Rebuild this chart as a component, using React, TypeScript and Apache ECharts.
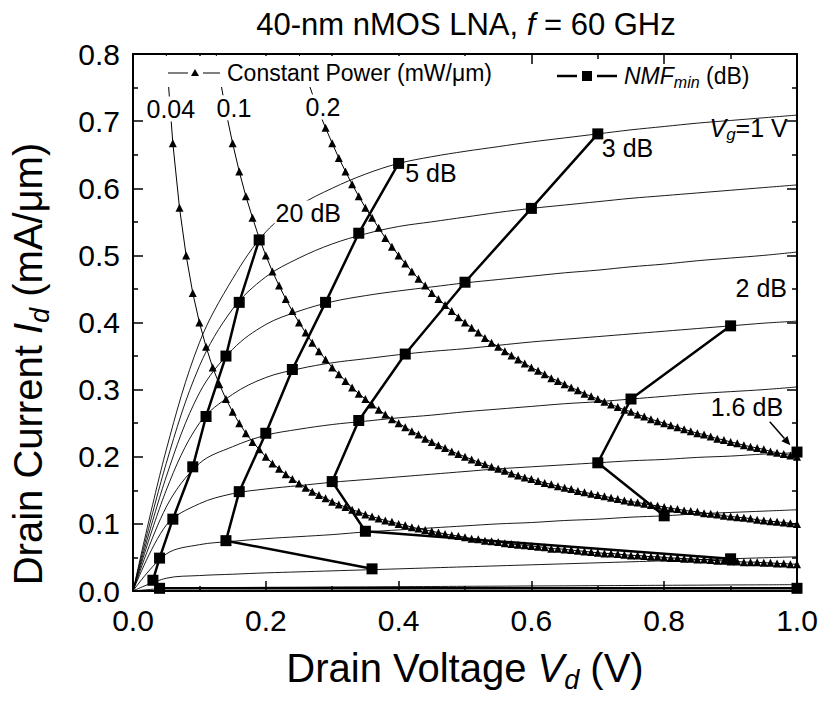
import React, { useEffect, useRef } from "react";
import * as echarts from "echarts";

// ---- Axis ticks ----
const X_TICKS = [0, 0.2, 0.4, 0.6, 0.8, 1.0];
const Y_TICKS = [0, 0.1, 0.2, 0.3, 0.4, 0.5, 0.6, 0.7, 0.8];

// ---- Id–Vd curves (thin lines), Vg = 1.0 ... 0.2 V, Vd step 0.05 ----
const VD_GRID = [0, 0.05, 0.1, 0.15, 0.2, 0.25, 0.3, 0.35, 0.4, 0.45, 0.5, 0.55, 0.6, 0.65, 0.7, 0.75, 0.8, 0.85, 0.9, 0.95, 1.0];
const ID_VG10 = [0, 0.21, 0.37, 0.465, 0.535, 0.574, 0.6, 0.621, 0.637, 0.647, 0.655, 0.662, 0.669, 0.675, 0.681, 0.687, 0.692, 0.697, 0.701, 0.705, 0.709];
const ID_VG09 = [0, 0.19, 0.335, 0.42, 0.468, 0.496, 0.517, 0.532, 0.543, 0.55, 0.557, 0.564, 0.57, 0.575, 0.58, 0.585, 0.589, 0.593, 0.597, 0.601, 0.605];
const ID_VG08 = [0, 0.17, 0.295, 0.36, 0.397, 0.417, 0.431, 0.44, 0.447, 0.453, 0.459, 0.464, 0.469, 0.474, 0.478, 0.483, 0.487, 0.492, 0.496, 0.5, 0.505];
const ID_VG07 = [0, 0.15, 0.25, 0.293, 0.318, 0.331, 0.34, 0.346, 0.352, 0.357, 0.361, 0.366, 0.371, 0.375, 0.379, 0.383, 0.387, 0.391, 0.395, 0.399, 0.402];
const ID_VG06 = [0, 0.125, 0.19, 0.215, 0.232, 0.241, 0.248, 0.253, 0.258, 0.262, 0.267, 0.271, 0.275, 0.279, 0.282, 0.286, 0.29, 0.294, 0.297, 0.3, 0.304];
const ID_VG05 = [0, 0.098, 0.13, 0.145, 0.152, 0.157, 0.162, 0.166, 0.17, 0.174, 0.178, 0.182, 0.185, 0.188, 0.191, 0.194, 0.196, 0.199, 0.201, 0.204, 0.206];
const ID_VG04 = [0, 0.055, 0.069, 0.074, 0.078, 0.081, 0.084, 0.088, 0.091, 0.094, 0.097, 0.1, 0.102, 0.105, 0.107, 0.11, 0.112, 0.115, 0.117, 0.119, 0.121];
const ID_VG03 = [0, 0.019, 0.023, 0.025, 0.027, 0.0285, 0.03, 0.0315, 0.033, 0.0345, 0.036, 0.0375, 0.039, 0.0405, 0.042, 0.0435, 0.045, 0.0465, 0.048, 0.0495, 0.051];
const ID_VG02 = [0, 0.004, 0.005, 0.0052, 0.0055, 0.0057, 0.006, 0.0062, 0.0065, 0.0067, 0.007, 0.0072, 0.0075, 0.0077, 0.008, 0.0082, 0.0085, 0.0087, 0.009, 0.0092, 0.0095];
const VG_CURVES = [ID_VG10, ID_VG09, ID_VG08, ID_VG07, ID_VG06, ID_VG05, ID_VG04, ID_VG03, ID_VG02];

// ---- Constant power curves (mW/um), Vd step 0.01 ----
const P004_VD_START = 0.05;
const P004_ID = [
  0.8, 0.667, 0.571, 0.5, 0.444, 0.4, 0.364, 0.333, 0.308, 0.286,
  0.267, 0.25, 0.235, 0.222, 0.211, 0.2, 0.19, 0.182, 0.174, 0.167,
  0.16, 0.154, 0.148, 0.143, 0.138, 0.133, 0.129, 0.125, 0.121, 0.118,
  0.114, 0.111, 0.108, 0.105, 0.103, 0.1, 0.098, 0.095, 0.093, 0.091,
  0.089, 0.087, 0.085, 0.083, 0.082, 0.08, 0.078, 0.077, 0.075, 0.074,
  0.073, 0.071, 0.07, 0.069, 0.068, 0.067, 0.066, 0.065, 0.063, 0.063,
  0.062, 0.061, 0.06, 0.059, 0.058, 0.057, 0.056, 0.056, 0.055, 0.054,
  0.053, 0.053, 0.052, 0.051, 0.051, 0.05, 0.049, 0.049, 0.048, 0.048,
  0.047, 0.047, 0.046, 0.045, 0.045, 0.044, 0.044, 0.043, 0.043, 0.043,
  0.042, 0.042, 0.041, 0.041, 0.04, 0.04,
];
const P01_VD_START = 0.12;
const P01_ID = [
  0.833, 0.769, 0.714, 0.667, 0.625, 0.588, 0.556, 0.526, 0.5, 0.476,
  0.455, 0.435, 0.417, 0.4, 0.385, 0.37, 0.357, 0.345, 0.333, 0.323,
  0.313, 0.303, 0.294, 0.286, 0.278, 0.27, 0.263, 0.256, 0.25, 0.244,
  0.238, 0.233, 0.227, 0.222, 0.217, 0.213, 0.208, 0.204, 0.2, 0.196,
  0.192, 0.189, 0.185, 0.182, 0.179, 0.175, 0.172, 0.169, 0.167, 0.164,
  0.161, 0.159, 0.156, 0.154, 0.152, 0.149, 0.147, 0.145, 0.143, 0.141,
  0.139, 0.137, 0.135, 0.133, 0.132, 0.13, 0.128, 0.127, 0.125, 0.123,
  0.122, 0.12, 0.119, 0.118, 0.116, 0.115, 0.114, 0.112, 0.111, 0.11,
  0.109, 0.108, 0.106, 0.105, 0.104, 0.103, 0.102, 0.101, 0.1,
];
const P02_VD_START = 0.25;
const P02_ID = [
  0.8, 0.769, 0.741, 0.714, 0.69, 0.667, 0.645, 0.625, 0.606, 0.588,
  0.571, 0.556, 0.541, 0.526, 0.513, 0.5, 0.488, 0.476, 0.465, 0.455,
  0.444, 0.435, 0.426, 0.417, 0.408, 0.4, 0.392, 0.385, 0.377, 0.37,
  0.364, 0.357, 0.351, 0.345, 0.339, 0.333, 0.328, 0.323, 0.317, 0.313,
  0.308, 0.303, 0.299, 0.294, 0.29, 0.286, 0.282, 0.278, 0.274, 0.27,
  0.267, 0.263, 0.26, 0.256, 0.253, 0.25, 0.247, 0.244, 0.241, 0.238,
  0.235, 0.233, 0.23, 0.227, 0.225, 0.222, 0.22, 0.217, 0.215, 0.213,
  0.211, 0.208, 0.206, 0.204, 0.202, 0.2,
];

// ---- NMFmin contours (thick lines with squares) ----
const NF20_VD = [1.0, 0.04, 0.03, 0.04, 0.06, 0.09, 0.11, 0.14, 0.16, 0.19];
const NF20_ID = [0.004, 0.004, 0.016, 0.049, 0.107, 0.185, 0.26, 0.35, 0.43, 0.523];
const NF5_VD = [0.36, 0.14, 0.16, 0.2, 0.24, 0.29, 0.34, 0.4];
const NF5_ID = [0.033, 0.075, 0.148, 0.235, 0.33, 0.43, 0.533, 0.637];
const NF3_VD = [0.9, 0.35, 0.3, 0.34, 0.41, 0.5, 0.6, 0.7];
const NF3_ID = [0.048, 0.089, 0.163, 0.254, 0.353, 0.46, 0.57, 0.681];
const NF2_VD = [0.8, 0.7, 0.75, 0.9];
const NF2_ID = [0.112, 0.191, 0.286, 0.395];
const NF16_VD = [1.0];
const NF16_ID = [0.207];

const FONT = "'Liberation Sans', Arial, Helvetica, sans-serif";

function zip(xs: number[], ys: number[]) {
  return xs.map((x, i) => [x, ys[i]]);
}
function stepped(start: number, ys: number[]) {
  return ys.map((y, i) => [Math.round((start + i * 0.01) * 100) / 100, y]);
}

export default function App() {
  const ref = useRef<HTMLDivElement>(null);
  useEffect(() => {
    if (!ref.current) return;
    const chart = echarts.init(ref.current, undefined, { renderer: "svg" });

    const series: any[] = [];
    VG_CURVES.forEach((ids) => {
      series.push({
        type: "line",
        data: zip(VD_GRID, ids),
        smooth: 0.35,
        showSymbol: false,
        symbol: "none",
        lineStyle: { color: "#000", width: 0.9 },
        z: 2,
      });
    });
    [
      stepped(P004_VD_START, P004_ID),
      stepped(P01_VD_START, P01_ID),
      stepped(P02_VD_START, P02_ID),
    ].forEach((d) => {
      series.push({
        type: "line",
        data: d,
        symbol: "triangle",
        symbolSize: (v: number[]) => (v[1] > 0.69 ? 0 : 8),
        itemStyle: { color: "#000" },
        lineStyle: { color: "#000", width: 1 },
        z: 3,
      });
    });
    [
      zip(NF20_VD, NF20_ID),
      zip(NF5_VD, NF5_ID),
      zip(NF3_VD, NF3_ID),
      zip(NF2_VD, NF2_ID),
      zip(NF16_VD, NF16_ID),
    ].forEach((d) => {
      series.push({
        type: "line",
        data: d,
        symbol: "rect",
        symbolSize: 11,
        itemStyle: { color: "#000" },
        lineStyle: { color: "#000", width: 2.5 },
        z: 4,
      });
    });

    const axisCommon = {
      type: "value" as const,
      axisLine: { show: true, onZero: false, lineStyle: { color: "#000", width: 2 } },
      axisTick: { show: true, inside: true, length: 10, lineStyle: { color: "#000", width: 1.5 } },
      minorTick: { show: true, splitNumber: 2, length: 5, lineStyle: { color: "#000", width: 1.5 } },
      splitLine: { show: false },
      minorSplitLine: { show: false },
    };

    chart.setOption({
      animation: false,
      backgroundColor: "#fff",
      grid: { left: 133, right: 25, top: 54, bottom: 113, containLabel: false },
      xAxis: [
        {
          ...axisCommon,
          min: X_TICKS[0],
          max: X_TICKS[X_TICKS.length - 1],
          interval: X_TICKS[1] - X_TICKS[0],
          position: "bottom",
          axisLabel: {
            margin: 14,
            fontSize: 30,
            fontFamily: FONT,
            color: "#000",
            formatter: (v: number) => v.toFixed(1),
          },
        },
        {
          ...axisCommon,
          min: X_TICKS[0],
          max: X_TICKS[X_TICKS.length - 1],
          interval: X_TICKS[1] - X_TICKS[0],
          position: "top",
          axisLabel: { show: false },
        },
      ],
      yAxis: [
        {
          ...axisCommon,
          min: Y_TICKS[0],
          max: Y_TICKS[Y_TICKS.length - 1],
          interval: Y_TICKS[1] - Y_TICKS[0],
          position: "left",
          axisLabel: {
            margin: 13,
            fontSize: 30,
            fontFamily: FONT,
            color: "#000",
            formatter: (v: number) => v.toFixed(1),
          },
        },
        {
          ...axisCommon,
          min: Y_TICKS[0],
          max: Y_TICKS[Y_TICKS.length - 1],
          interval: Y_TICKS[1] - Y_TICKS[0],
          position: "right",
          axisLabel: { show: false },
        },
      ],
      series,
    });

    const p = (x: number, y: number) => chart.convertToPixel({ gridIndex: 0 }, [x, y]) as number[];
    const base = (size: number) => ({ fontSize: size, fontFamily: FONT, fill: "#000" });
    const richSet = (size: number, subSize: number, subPad: number) => ({
      i: { fontSize: size, fontFamily: FONT, fontStyle: "italic", fill: "#000" },
      n: { fontSize: size, fontFamily: FONT, fill: "#000" },
      sub: { fontSize: subSize, fontFamily: FONT, fontStyle: "italic", fill: "#000", padding: [subPad, 0, 0, 0] },
    });

    const label = (text: string, x: number, y: number, align: string, white: boolean, size = 25) => {
      const [px, py] = p(x, y);
      return {
        type: "text",
        x: px,
        y: py,
        z: 100,
        style: {
          ...base(size),
          text,
          align,
          verticalAlign: "middle",
          backgroundColor: white ? "#fff" : undefined,
          padding: white ? [0, 1, 0, 1] : 0,
          rich: richSet(size, 17, 14),
        },
      };
    };

    // arrow for 1.6 dB
    const a0 = p(0.959, 0.252);
    const a1 = p(0.99, 0.217);
    const dx = a1[0] - a0[0];
    const dy = a1[1] - a0[1];
    const len = Math.hypot(dx, dy);
    const ux = dx / len;
    const uy = dy / len;
    const hl = 9;
    const hw = 4;
    const baseX = a1[0] - ux * hl;
    const baseY = a1[1] - uy * hl;

    const graphic: any[] = [
      // title
      {
        type: "text",
        x: 466,
        y: 24,
        z: 100,
        style: {
          ...base(31),
          text: "40-nm nMOS LNA, {i|f} = 60 GHz",
          align: "center",
          verticalAlign: "middle",
          rich: richSet(31, 20, 14),
        },
      },
      // x axis title
      {
        type: "text",
        x: 465,
        y: 668,
        z: 100,
        style: {
          ...base(40),
          text: "Drain Voltage {i|V}{sub|d} (V)",
          align: "center",
          verticalAlign: "middle",
          rich: richSet(40, 27, 24),
        },
      },
      // y axis title
      {
        type: "text",
        x: 28,
        y: 364,
        rotation: Math.PI / 2,
        z: 100,
        style: {
          ...base(40),
          text: "Drain Current {i|I}{sub|d} (mA/\u03bcm)",
          align: "center",
          verticalAlign: "middle",
          rich: richSet(40, 27, 24),
        },
      },
      // legend 1 background + items: constant power
      { type: "rect", z: 99, shape: { x: 160, y: 56, width: 336, height: 31 }, style: { fill: "#fff" } },
      { type: "line", z: 100, shape: { x1: 168, y1: 73, x2: 188, y2: 73 }, style: { stroke: "#000", lineWidth: 1 } },
      { type: "polygon", z: 100, shape: { points: [[195, 69], [191, 76], [199, 76]] }, style: { fill: "#000" } },
      { type: "line", z: 100, shape: { x1: 203, y1: 73, x2: 220, y2: 73 }, style: { stroke: "#000", lineWidth: 1 } },
      {
        type: "text",
        x: 227,
        y: 73,
        z: 100,
        style: { ...base(23), text: "Constant Power (mW/\u03bcm)", align: "left", verticalAlign: "middle" },
      },
      // legend 2: NMFmin
      { type: "line", z: 100, shape: { x1: 557, y1: 76, x2: 577, y2: 76 }, style: { stroke: "#000", lineWidth: 2.5 } },
      { type: "rect", z: 100, shape: { x: 582, y: 71, width: 10, height: 10 }, style: { fill: "#000" } },
      { type: "line", z: 100, shape: { x1: 597, y1: 76, x2: 617, y2: 76 }, style: { stroke: "#000", lineWidth: 2.5 } },
      {
        type: "text",
        x: 624,
        y: 76,
        z: 100,
        style: {
          ...base(23),
          text: "{i|NMF}{sub|min} (dB)",
          align: "left",
          verticalAlign: "middle",
          rich: richSet(23, 16, 12),
        },
      },
      // power labels
      label("0.04", 0.057, 0.718, "center", true),
      label("0.1", 0.152, 0.72, "center", true),
      label("0.2", 0.286, 0.721, "center", true),
      // NF labels
      label("20 dB", 0.264, 0.563, "center", true),
      label("5 dB", 0.41, 0.622, "left", false),
      label("3 dB", 0.706, 0.66, "left", false),
      label("2 dB", 0.985, 0.4516, "right", false),
      label("1.6 dB", 0.979, 0.274, "right", false),
      label("{i|V}{sub|g}=1 V", 0.986, 0.69, "right", false),
      // arrow
      {
        type: "line",
        z: 100,
        shape: { x1: a0[0], y1: a0[1], x2: baseX, y2: baseY },
        style: { stroke: "#000", lineWidth: 1.5 },
      },
      {
        type: "polygon",
        z: 100,
        shape: {
          points: [
            [a1[0], a1[1]],
            [baseX - uy * hw, baseY + ux * hw],
            [baseX + uy * hw, baseY - ux * hw],
          ],
        },
        style: { fill: "#000" },
      },
    ];
    chart.setOption({ graphic });

    return () => chart.dispose();
  }, []);
  return (
    <div
      ref={ref}
      style={{ position: "fixed", left: 0, top: 0, width: 822, height: 704, background: "#fff" }}
    />
  );
}
